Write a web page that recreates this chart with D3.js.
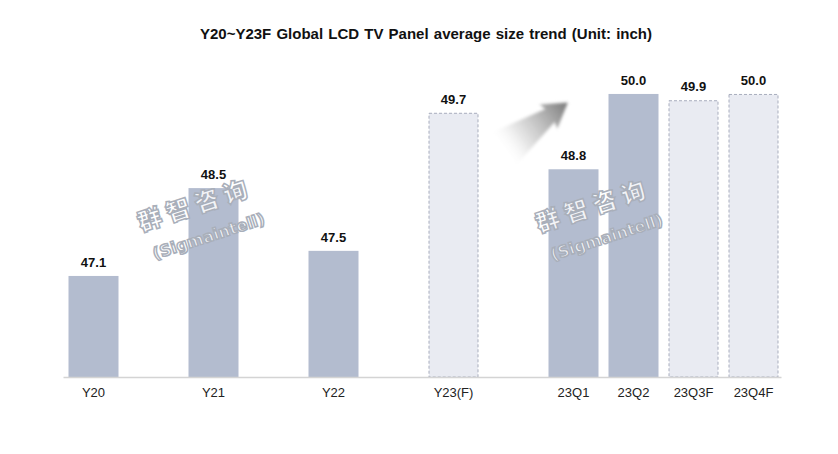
<!DOCTYPE html>
<html><head><meta charset="utf-8">
<script src="https://cdn.jsdelivr.net/npm/d3@7"></script>
<style>body{margin:0;background:#fff}svg{display:block}</style>
</head><body>
<svg id="c" width="838" height="454"></svg>
<script>
const title = "Y20~Y23F Global LCD TV Panel average size trend (Unit: inch)";
const categories = ["Y20","Y21","Y22","Y23(F)","23Q1","23Q2","23Q3F","23Q4F"];
const values = [47.1, 48.5, 47.5, 49.7, 48.8, 50.0, 49.9, 50.0];
const forecast = [false, false, false, true, false, false, true, true];
const yearly = [true, true, true, true, false, false, false, false];

const svg = d3.select("#c");

// band domain: a spacer after each yearly category
const domain = [];
categories.forEach((c, i) => { domain.push(c); if (yearly[i]) domain.push("__gap" + i); });

const x = d3.scaleBand().domain(domain).range([63.5, 783.5]).paddingInner(1/6).paddingOuter(1/12);
const y = d3.scaleLinear().domain([45.49, 51]).range([377, 31.2]);

// defs
const defs = svg.append("defs");
const grad = defs.append("linearGradient").attr("id","ag").attr("x1","0").attr("x2","1").attr("y1","0").attr("y2","0");
grad.append("stop").attr("offset","0").attr("stop-color","#ffffff").attr("stop-opacity",0);
grad.append("stop").attr("offset","0.3").attr("stop-color","#e0e0e0").attr("stop-opacity",0.8);
grad.append("stop").attr("offset","1").attr("stop-color","#787878").attr("stop-opacity",1);
defs.append("filter").attr("id","bl").append("feGaussianBlur").attr("stdDeviation",1.8);

// title
svg.append("text").attr("x", 426).attr("y", 39).attr("text-anchor","middle")
  .attr("font-family","'Liberation Sans', Arial, sans-serif").attr("font-weight","bold")
  .attr("font-size", 15).attr("word-spacing", 1).attr("fill","#111").text(title);

// bars
const data = categories.map((c,i)=>({c, v: values[i], f: forecast[i]}));
svg.append("g").selectAll("rect").data(data).join("rect")
  .attr("x", d => x(d.c) + (d.f ? 0.5 : 0))
  .attr("y", d => y(d.v) + (d.f ? 0.5 : 0))
  .attr("width", d => x.bandwidth() - (d.f ? 1 : 0))
  .attr("height", d => y(y.domain()[0]) - y(d.v) - (d.f ? 0.5 : 0))
  .attr("fill", d => d.f ? "#e9ebf2" : "#b3bccf")
  .attr("stroke", d => d.f ? "#a8adbd" : "none")
  .attr("stroke-width", 1)
  .attr("stroke-dasharray", d => d.f ? "3,2" : null);

// axis line
svg.append("line").attr("x1", x.range()[0]).attr("x2", x.range()[1] - 2)
  .attr("y1", y(y.domain()[0]) + 0.5).attr("y2", y(y.domain()[0]) + 0.5)
  .attr("stroke","#d4d4d4").attr("stroke-width",1.5);

// x labels
svg.append("g").selectAll("text").data(categories).join("text")
  .attr("x", d => x(d) + x.bandwidth()/2).attr("y", 397)
  .attr("text-anchor","middle").attr("font-family","'Liberation Sans', Arial, sans-serif")
  .attr("font-size", 13).attr("fill","#222").text(d => d);

// value labels
svg.append("g").selectAll("text").data(data).join("text")
  .attr("x", d => x(d.c) + x.bandwidth()/2).attr("y", d => y(d.v) - 9)
  .attr("text-anchor","middle").attr("font-family","'Liberation Sans', Arial, sans-serif")
  .attr("font-weight","bold").attr("font-size", 13).attr("fill","#111")
  .text(d => d.v.toFixed(1));

// trend arrow between Y23(F) and 23Q1
const gapKey = domain[domain.indexOf("23Q1") - 1];
const ax = x(gapKey) + x.bandwidth()/2, ay = y(49.0);
svg.append("path")
  .attr("d", "M0,-21 L60,-8 L58,-15 L82,0 L58,15 L60,8 L0,21 Z")
  .attr("transform", `translate(${ax - 12},${ay - 6}) rotate(-36)`)
  .attr("fill","url(#ag)").attr("filter","url(#bl)");

// watermarks
function watermark(cx, cy) {
  const g = svg.append("g").attr("transform", `translate(${cx},${cy}) rotate(-18)`)
    .attr("fill","#ffffff").attr("fill-opacity",0.85).attr("stroke","#a9afba").attr("stroke-width",1.5);
  g.append("text").attr("x",0).attr("y",0).attr("text-anchor","middle")
    .attr("font-family","'Noto Sans CJK SC', sans-serif").attr("font-weight","900")
    .attr("font-size",24).attr("letter-spacing",6).text("群智咨询");
  g.append("text").attr("x",3).attr("y",31).attr("text-anchor","middle")
    .attr("font-family","'DejaVu Sans', sans-serif").attr("font-weight","bold")
    .attr("font-size",16).text("(Sigmaintell)");
}
watermark(198, 213);
watermark(596, 214);
</script>
</body></html>
